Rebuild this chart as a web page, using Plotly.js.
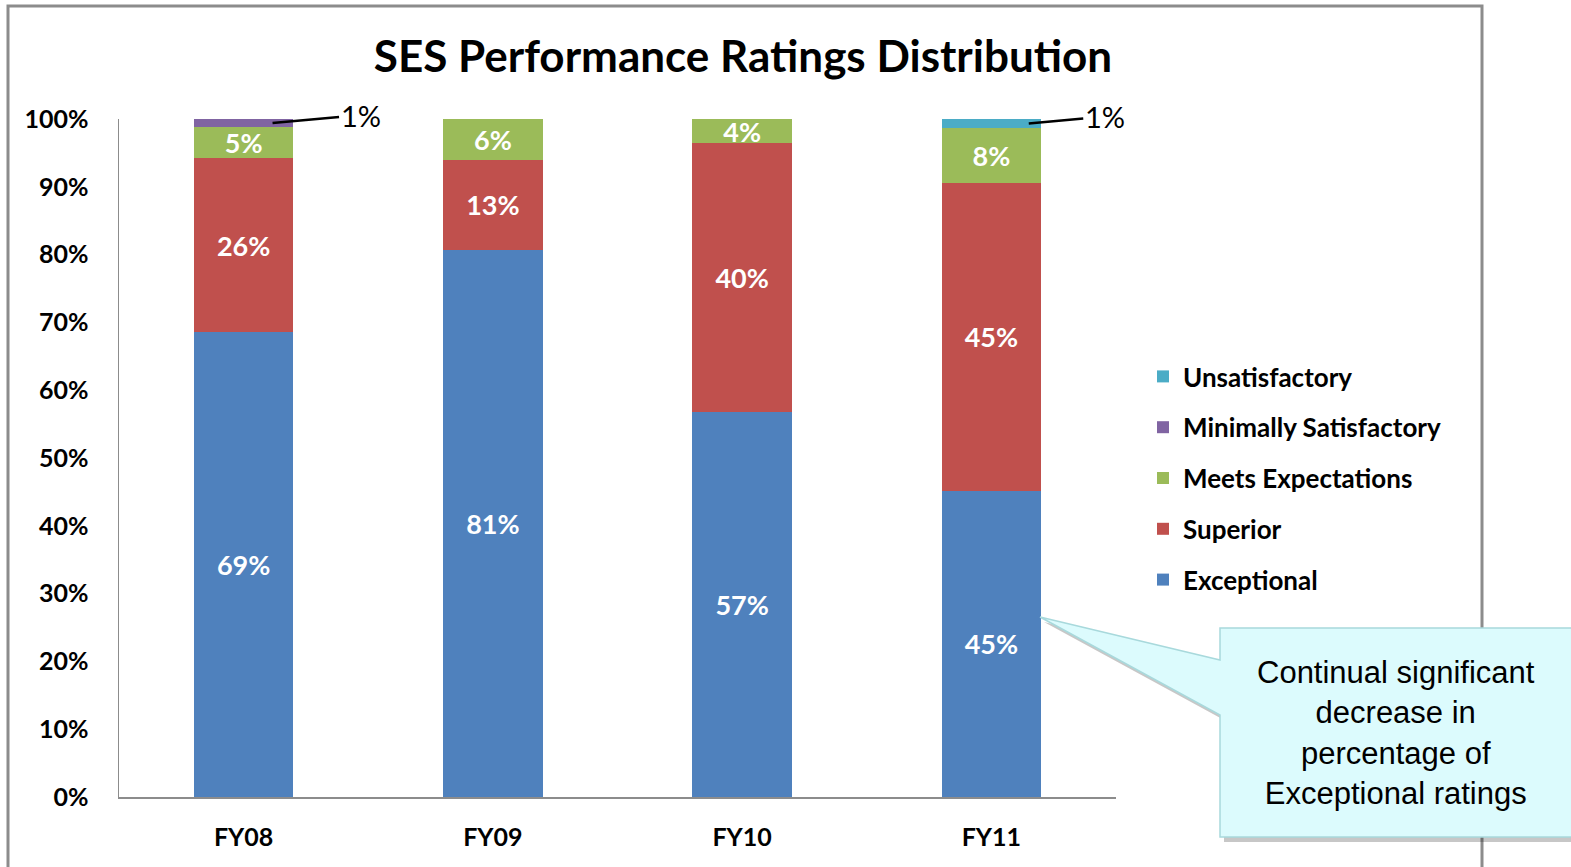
<!DOCTYPE html>
<html>
<head>
<meta charset="utf-8">
<script src="https://cdn.plot.ly/plotly-3.0.1.min.js"></script>
<style>html,body{margin:0;padding:0;background:#fff;}#chart{width:1571px;height:867px;}</style>
</head>
<body>
<div id="chart"></div>
<script>
const categories = ['FY08', 'FY09', 'FY10', 'FY11'];
const exceptional = [68.6, 80.7, 56.8, 45.2];
const superior = [25.6, 13.3, 39.6, 45.4];
const meetsExpectations = [4.6, 6.0, 3.6, 8.1];
const minimallySatisfactory = [1.2, 0, 0, 0];
const unsatisfactory = [0, 0, 0, 1.3];
const yTicks = [0, 10, 20, 30, 40, 50, 60, 70, 80, 90, 100];
const yTickLabels = ['0%', '10%', '20%', '30%', '40%', '50%', '60%', '70%', '80%', '90%', '100%'];
const calloutText = 'Continual significant<br>decrease in<br>percentage of<br>Exceptional ratings';

const W = 1571, H = 867;
const L = 119, R = 1116, T = 119, B = 797;
const px = x => (x - L) / (R - L);
const py = y => (B - y) / (B - T);

const labelFont = {family: 'Lato, "Open Sans", sans-serif', size: 27, color: '#ffffff', weight: 'bold'};
function barTrace(name, y, color, showText, rank) {
  return {
    type: 'bar', name: name, x: categories, y: y,
    marker: {color: color, line: {width: 0}},
    texttemplate: showText ? '<b>%{y:.0f}%</b>' : '',
    textposition: showText ? 'inside' : 'none',
    insidetextanchor: 'middle',
    textangle: 0,
    constraintext: 'none',
    textfont: labelFont,
    legendgroup: name,
    legendrank: rank,
    hoverinfo: 'x+y+name'
  };
}

const data = [
  barTrace('Exceptional', exceptional, '#4f81bd', true, 5),
  barTrace('Superior', superior, '#c0504d', true, 4),
  barTrace('Meets Expectations', meetsExpectations, '#9bbb59', true, 3),
  barTrace('Minimally Satisfactory', minimallySatisfactory, '#8064a2', false, 2),
  barTrace('Unsatisfactory', unsatisfactory, '#4bacc6', false, 1)
];

// callout geometry (pixels)
const tip = [1040, 617];
const bx0 = 1220, bx1 = 1575, by0 = 628, by1 = 837;
function calloutPath(dx, dy) {
  const P = (x, y) => px(x + dx) + ',' + py(y + dy);
  return 'M' + P(tip[0], tip[1]) + ' L' + P(bx0, 660) + ' L' + P(bx0, by0) + ' L' + P(bx1, by0) +
    ' L' + P(bx1, by1) + ' L' + P(bx0, by1) + ' L' + P(bx0, 715) + ' Z';
}

const layout = {
  width: W, height: H,
  margin: {l: L, r: W - R, t: T, b: H - B, pad: 0},
  paper_bgcolor: '#ffffff', plot_bgcolor: '#ffffff',
  barmode: 'stack', bargap: 0.6,
  showlegend: true,
  title: {
    text: '<b>SES Performance Ratings Distribution</b>',
    font: {family: 'Lato, "Open Sans", sans-serif', size: 44, color: '#000000'},
    xref: 'container', x: 743 / W, xanchor: 'center',
    yref: 'container', y: 1 - 57 / H, yanchor: 'middle'
  },
  font: {family: 'Lato, "Open Sans", sans-serif', color: '#000000'},
  xaxis: {
    type: 'category', range: [-0.5, 3.5], autorange: false, showgrid: false, zeroline: false,
    showline: true, linecolor: '#8c8c8c', linewidth: 1.5,
    ticks: '', ticklabelstandoff: 17,
    tickfont: {family: 'Lato, sans-serif', size: 25, color: '#000000', weight: 'bold'},
    fixedrange: true
  },
  yaxis: {
    range: [0, 100], autorange: false, showgrid: false, zeroline: false,
    showline: true, linecolor: '#8c8c8c', linewidth: 1.5,
    tickvals: yTicks, ticktext: yTickLabels, ticks: '', ticklabelstandoff: 24,
    tickfont: {family: 'Lato, sans-serif', size: 25, color: '#000000', weight: 'bold'},
    fixedrange: true
  },
  legend: {
    x: px(1143), xanchor: 'left', y: py(353), yanchor: 'top',
    traceorder: 'grouped', tracegroupgap: 14,
    font: {family: 'Lato, sans-serif', size: 26, color: '#000000', weight: 'bold'},
    itemwidth: 30, bgcolor: 'rgba(0,0,0,0)'
  },
  shapes: [
    {type: 'rect', xref: 'paper', yref: 'paper', x0: px(8), x1: px(1482), y0: py(900), y1: py(6),
     line: {color: '#8c8c8c', width: 3}, fillcolor: 'rgba(0,0,0,0)', layer: 'below'},
    {type: 'path', xref: 'paper', yref: 'paper', path: calloutPath(4, 5),
     fillcolor: 'rgba(0,0,0,0.22)', line: {width: 0}, layer: 'above'},
    {type: 'path', xref: 'paper', yref: 'paper', path: calloutPath(0, 0),
     fillcolor: '#dcfbfd', line: {color: '#a8d9dc', width: 1.5}, layer: 'above'}
  ],
  annotations: [
    {x: 0.116, y: 100 - minimallySatisfactory[0] / 2, xref: 'x', yref: 'y',
     text: Math.round(minimallySatisfactory[0]) + '%', showarrow: true, arrowhead: 0, arrowwidth: 2.5,
     arrowcolor: '#000000', ax: 88, ay: -8, standoff: 0,
     font: {family: 'Lato, sans-serif', size: 29, color: '#000000'}},
    {x: 3.15, y: 100 - unsatisfactory[3] / 2, xref: 'x', yref: 'y',
     text: Math.round(unsatisfactory[3]) + '%', showarrow: true, arrowhead: 0, arrowwidth: 2.5,
     arrowcolor: '#000000', ax: 76, ay: -7, standoff: 0,
     font: {family: 'Lato, sans-serif', size: 29, color: '#000000'}},
    {xref: 'paper', yref: 'paper', x: px(1396), y: py(733), xanchor: 'center', yanchor: 'middle',
     text: calloutText, showarrow: false, align: 'center',
     font: {family: '"Liberation Sans", Arial, sans-serif', size: 31, color: '#000000'}}
  ]
};

Plotly.newPlot('chart', data, layout, {displayModeBar: false, staticPlot: true});
</script>
</body>
</html>
